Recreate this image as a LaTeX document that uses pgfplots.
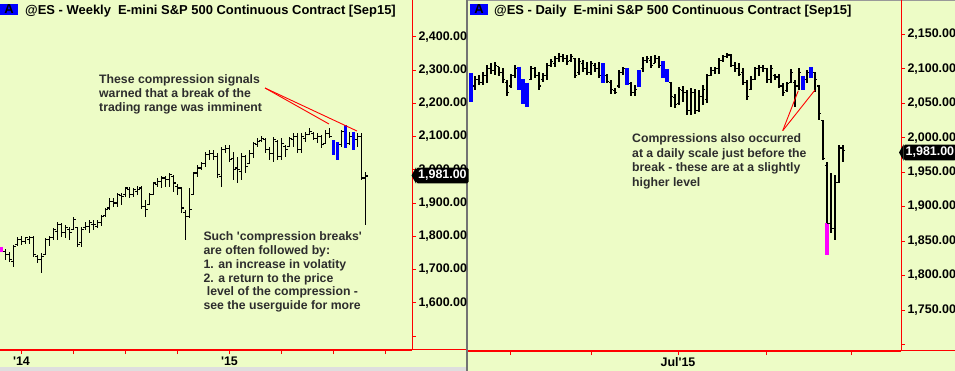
\documentclass[border=0pt]{standalone}
\usepackage{pgfplots}
\pgfplotsset{compat=1.18}
\usepackage{pgfplotstable}
\usepackage{fontspec}
\setmainfont{Liberation Sans}
\definecolor{bg}{RGB}{237,252,198}
\definecolor{txt}{RGB}{45,45,45}
\definecolor{hiblue}{RGB}{0,0,255}
\definecolor{himag}{RGB}{255,0,255}

\pgfdeclareplotmark{rtick}{\pgfpathmoveto{\pgfpointorigin}\pgfpathlineto{\pgfpoint{\pgfplotmarksize}{0pt}}\pgfusepathqstroke}
\pgfdeclareplotmark{ltick}{\pgfpathmoveto{\pgfpointorigin}\pgfpathlineto{\pgfpoint{-\pgfplotmarksize}{0pt}}\pgfusepathqstroke}
\pgfdeclareplotmark{nothing}{}

% weekly bars: index, open, high, low, close
\pgfplotstableread{
i o h l c
1 1755 1761 1728 1745
2 1745 1753 1723 1730
3 1725 1774 1708 1770
4 1775 1799 1771 1790
5 1790 1802 1774 1785
6 1785 1799 1777 1795
7 1790 1802 1777 1795
8 1795 1801 1737 1745
9 1740 1744 1719 1730
10 1730 1749 1688 1740
11 1745 1794 1744 1790
12 1790 1801 1771 1795
13 1795 1824 1789 1820
14 1815 1844 1789 1835
15 1835 1839 1799 1810
16 1810 1834 1794 1825
17 1820 1829 1789 1810
18 1820 1857 1819 1850
19 1825 1829 1769 1775
20 1780 1829 1767 1820
21 1825 1844 1819 1830
22 1830 1849 1809 1840
23 1835 1849 1819 1835
24 1830 1849 1824 1840
25 1840 1864 1831 1860
26 1862 1884 1859 1880
27 1885 1914 1879 1905
28 1905 1914 1889 1900
29 1900 1929 1889 1925
30 1922 1929 1894 1920
31 1925 1948 1918 1945
32 1940 1947 1914 1925
33 1925 1944 1917 1940
34 1935 1951 1924 1940
35 1945 1951 1881 1890
36 1890 1909 1859 1880
37 1895 1931 1894 1925
38 1925 1964 1924 1960
39 1955 1974 1949 1965
40 1965 1981 1944 1975
41 1975 1981 1947 1970
42 1970 1991 1949 1985
43 1980 1984 1934 1960
44 1950 1957 1924 1945
45 1945 1949 1869 1885
46 1870 1879 1789 1860
47 1860 1944 1854 1880
48 1925 1994 1924 1990
49 1990 2014 1979 2005
50 2005 2024 1999 2020
51 2020 2054 2009 2045
52 2045 2059 2029 2050
53 2050 2059 2029 2040
54 2040 2049 1974 1985
55 1980 2069 1949 2060
56 2060 2074 2049 2065
57 2065 2074 2024 2030
58 2035 2054 1969 2000
59 2005 2039 1959 2000
60 1995 2049 1969 2040
61 2040 2044 1989 2010
62 2020 2059 2019 2050
63 2050 2084 2035 2080
64 2075 2094 2069 2085
65 2088 2101 2084 2095
66 2090 2094 2049 2060
67 2060 2069 2029 2050
68 2050 2099 2024 2090
69 2085 2089 2029 2040
70 2040 2094 2029 2080
71 2070 2074 2039 2060
72 2070 2099 2069 2095
73 2090 2109 2069 2100
74 2100 2109 2049 2060
75 2060 2109 2049 2100
76 2095 2114 2084 2105
77 2105 2124 2104 2115
78 2110 2114 2089 2095
79 2095 2109 2079 2100
80 2100 2104 2064 2075
81 2080 2119 2079 2110
82 2110 2124 2094 2100
85 2075 2119 2069 2115
87 2080 2114 2074 2100
89 2090 2109 2069 2100
90 2100 2109 1969 1975
91 1975 1994 1834 1981
}\weekly

\pgfplotstableread{
i h l
83 2089 2044
84 2084 2029
86 2134 2064
88 2114 2059
}\weeklyblue

\pgfplotstableread{
i h l
0 1768 1753
}\weeklymag

% daily bars: index, open, high, low, close
\pgfplotstableread{
i o h l c
1 2075 2089 2069 2085
2 2085 2091 2077 2080
3 2080 2096 2077 2090
4 2090 2106 2079 2100
5 2100 2108 2093 2098
6 2098 2110 2091 2105
7 2103 2103 2089 2095
8 2095 2101 2079 2085
9 2080 2084 2060 2065
10 2075 2093 2072 2090
11 2090 2106 2086 2100
15 2085 2104 2084 2100
16 2100 2103 2086 2090
17 2090 2096 2069 2075
18 2085 2094 2081 2090
19 2090 2108 2084 2105
20 2105 2114 2103 2110
21 2108 2119 2103 2115
22 2115 2123 2110 2118
23 2118 2122 2110 2115
24 2115 2120 2106 2110
25 2112 2122 2110 2118
26 2115 2115 2086 2090
27 2095 2115 2091 2110
28 2108 2113 2096 2100
29 2100 2110 2091 2095
30 2095 2112 2091 2108
31 2105 2108 2096 2100
32 2100 2110 2086 2090
34 2090 2093 2079 2082
35 2080 2084 2064 2070
36 2068 2072 2064 2066
37 2075 2098 2072 2095
38 2095 2102 2091 2100
40 2078 2081 2060 2065
41 2065 2077 2060 2070
43 2100 2117 2096 2112
44 2112 2118 2108 2115
45 2112 2118 2101 2105
46 2108 2120 2108 2115
47 2115 2118 2101 2105
50 2080 2081 2045 2060
51 2058 2064 2043 2048
52 2050 2074 2048 2070
53 2068 2075 2052 2065
54 2065 2069 2033 2040
55 2040 2072 2033 2065
56 2065 2070 2035 2040
57 2040 2069 2038 2060
58 2060 2077 2048 2070
59 2055 2093 2050 2090
60 2090 2102 2089 2098
61 2098 2103 2093 2100
62 2100 2115 2093 2112
63 2112 2120 2110 2118
64 2118 2123 2115 2120
65 2120 2122 2103 2105
66 2105 2110 2096 2100
67 2100 2108 2089 2092
68 2095 2101 2077 2080
69 2080 2084 2055 2060
70 2070 2089 2069 2085
71 2085 2103 2084 2100
72 2100 2106 2089 2102
73 2102 2106 2096 2100
74 2100 2101 2079 2085
75 2085 2106 2079 2100
76 2090 2093 2084 2088
77 2088 2093 2072 2075
78 2075 2079 2060 2065
79 2068 2081 2067 2078
80 2080 2099 2079 2095
81 2080 2084 2045 2075
82 2075 2101 2069 2095
84 2085 2098 2079 2095
86 2095 2096 2067 2085
87 2075 2077 2026 2035
88 2025 2026 1968 1970
89 1960 1965 1830 1875
90 1875 1949 1862 1868
91 1868 1946 1852 1935
92 1935 1989 1934 1985
93 1985 1989 1965 1981
}\daily

\pgfplotstableread{
i h l
0 2094 2052
12 2103 2069
13 2085 2049
14 2080 2045
33 2108 2079
39 2101 2077
42 2098 2074
48 2111 2087
49 2099 2081
83 2090 2069
85 2102 2086
}\dailyblue

\pgfplotstableread{
i h l
89 1876 1830
}\dailymag

\pgfplotsset{
  ohlc/.style={only marks, mark=rtick, mark size=2.3bp, black,
    mark options={line width=1.1bp, black},
    error bars/.cd, y dir=both, y explicit, error mark=none,
    error bar style={black, line width=1.3bp}},
  otick/.style={only marks, mark=ltick, mark size=2.3bp, black,
    mark options={line width=1.1bp, black}},
  hibar/.style={only marks, mark=nothing, #1,
    error bars/.cd, y dir=minus, y explicit, error mark=none,
    error bar style={#1, line width=3.4bp}},
  panel/.style={scale only axis, anchor=south west,
    axis x line*=bottom, axis y line*=right,
    axis line style={red, line width=1bp},
    every tick/.style={red, line width=0.8bp},
    tick align=outside, major tick length=4bp, minor tick length=4bp,
    /pgf/number format/assume math mode=true,
    ticklabel style={font=\bfseries\fontsize{12.5}{14}\selectfont, text=black},
    xticklabel style={yshift=1bp},
    yticklabel style={xshift=-1bp, /pgf/number format/.cd, fixed, fixed zerofill, precision=2, 1000 sep={,}},
    extra y tick labels={},
  },
}

\begin{document}
\begin{tikzpicture}
\fill[bg] (0bp,0bp) rectangle (955bp,371bp);
\useasboundingbox (0bp,0bp) rectangle (955bp,371bp);
\fill[black!13] (0bp,0bp) rectangle (467bp,4bp);
\draw[black!55, line width=1.5bp] (467bp,0bp) -- (467bp,371bp);
\draw[black!40, line width=1bp] (468bp,370.5bp) -- (955bp,370.5bp);

% ---------- weekly panel ----------
\begin{axis}[panel, at={(0bp,21bp)}, width=412bp, height=350bp,
  xmin=-0.375, xmax=102.625, ymin=1457.8, ymax=2510.4,
  xtick={5,57}, xticklabels={\textquotesingle14,\textquotesingle15},
  minor xtick={18,31,44,70,83,96},
  ytick={1600,1700,...,2400}, extra y ticks={1500}]
\addplot[ohlc] table[x=i, y=c, y error plus expr=\thisrow{h}-\thisrow{c}, y error minus expr=\thisrow{c}-\thisrow{l}] {\weekly};
\addplot[otick] table[x=i, y=o] {\weekly};
\addplot[hibar=hiblue] table[x=i, y=h, y error expr=\thisrow{h}-\thisrow{l}] {\weeklyblue};
\addplot[hibar=himag] table[x=i, y=h, y error expr=\thisrow{h}-\thisrow{l}] {\weeklymag};
\end{axis}

% ---------- daily panel ----------
\begin{axis}[panel, at={(468bp,20bp)}, width=433bp, height=351bp,
  xmin=-0.75, xmax=107.5, ymin=1690.5, ymax=2199.8,
  xtick={51.75}, xticklabels={Jul\textquotesingle15},
  minor xtick={9.75,30,73.75,95},
  ytick={1750,1800,...,2150}, extra y ticks={1700}]
\addplot[ohlc] table[x=i, y=c, y error plus expr=\thisrow{h}-\thisrow{c}, y error minus expr=\thisrow{c}-\thisrow{l}] {\daily};
\addplot[otick] table[x=i, y=o] {\daily};
\addplot[hibar=hiblue] table[x=i, y=h, y error expr=\thisrow{h}-\thisrow{l}] {\dailyblue};
\addplot[hibar=himag] table[x=i, y=h, y error expr=\thisrow{h}-\thisrow{l}] {\dailymag};
\end{axis}

\begin{scope}[x=1bp,y=1bp]
\draw[red, line width=1bp] (0,21) -- (466,21);
\draw[red, line width=1bp] (468,20) -- (955,20);

% ---------- titles ----------
\fill[hiblue] (0,356) rectangle (18,367);
\node[font=\bfseries\fontsize{13}{14}\selectfont, inner sep=0] at (9,361.5) {A};
\node[anchor=base west, inner sep=0, font=\bfseries\fontsize{13}{14}\selectfont] at (25,356.5)
  {@ES - Weekly\hspace{7bp}E-mini S\&P 500 Continuous Contract [Sep15]};
\fill[hiblue] (470,356) rectangle (488,367);
\node[font=\bfseries\fontsize{13}{14}\selectfont, inner sep=0] at (479,361.5) {A};
\node[anchor=base west, inner sep=0, font=\bfseries\fontsize{13}{14}\selectfont] at (494,356.5)
  {@ES - Daily\hspace{7bp}E-mini S\&P 500 Continuous Contract [Sep15]};

% ---------- annotations ----------
\begin{scope}[every node/.style={anchor=base west, inner sep=0, text=txt, font=\bfseries\fontsize{12.3}{14}\selectfont}]
\node at (99,288) {These compression signals};
\node at (99,274) {warned that a break of the};
\node at (99,260) {trading range was imminent};
\node at (203.3,130.5) {Such \textquotesingle compression breaks\textquotesingle};
\node at (203.3,117) {are often followed by:};
\node at (203.3,103) {1. an increase in volatity};
\node at (203.3,89) {2. a return to the price};
\node at (206.7,75.5) {level of the compression -};
\node at (203.3,61.5) {see the userguide for more};
\node at (632,228.5) {Compressions also occurred};
\node at (632,214) {at a daily scale just before the};
\node at (632,199.5) {break - these are at a slightly};
\node at (632,185) {higher level};
\end{scope}
\draw[red, line width=0.9bp] (265,283) -- (329,247);
\draw[red, line width=0.9bp] (265,283) -- (357,240);
\draw[red, line width=0.9bp] (782.7,240.3) -- (798.3,280.3);
\draw[red, line width=0.9bp] (782.7,240.3) -- (815,281);

% ---------- last price callouts ----------
\node[fill=black, text=white, rounded corners=1.5bp, inner xsep=2bp, inner ysep=2.5bp, anchor=west,
  font=\bfseries\fontsize{12.5}{14}\selectfont] (cl) at (416,195.5) {1,981.00};
\fill[black] (cl.north west) -- (411.5,195.5) -- (cl.south west) -- cycle;
\node[fill=black, text=white, rounded corners=1.5bp, inner xsep=2bp, inner ysep=2.5bp, anchor=west,
  font=\bfseries\fontsize{12.5}{14}\selectfont] (cr) at (903.5,218.5) {1,981.00};
\fill[black] (cr.north west) -- (899,218.5) -- (cr.south west) -- cycle;
\end{scope}
\end{tikzpicture}
\end{document}
